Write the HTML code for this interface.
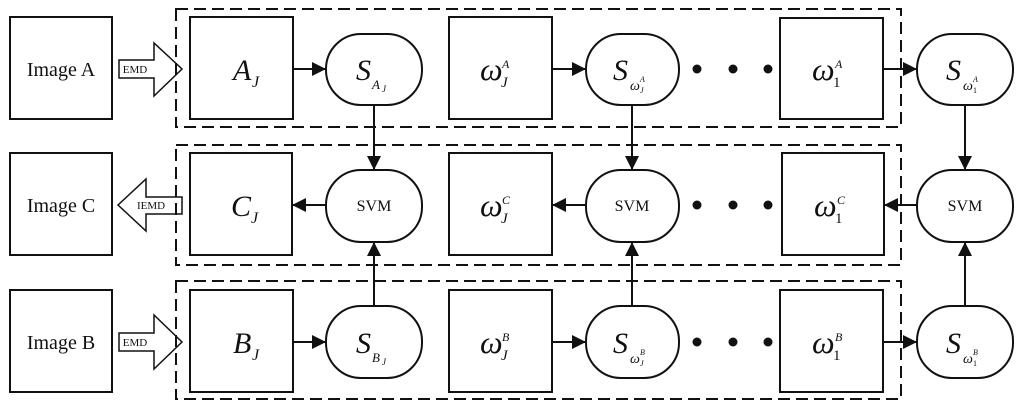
<!DOCTYPE html>
<html><head><meta charset="utf-8"><style>
html,body{margin:0;padding:0;background:#fff;}
svg{display:block;}
text{font-family:"Liberation Serif",serif;fill:#111;}
.it{font-style:italic;}
</style></head><body>
<svg width="1024" height="409" viewBox="0 0 1024 409" xmlns="http://www.w3.org/2000/svg">
<defs>
<marker id="ar2" viewBox="0 0 14 14" markerWidth="14" markerHeight="14" refX="13" refY="7" orient="auto" markerUnits="userSpaceOnUse">
<path d="M0,0 L14,7 L0,14 z" fill="#111"/></marker>
</defs>
<g fill="none" stroke="#111" stroke-width="2">
<rect x="176" y="9" width="725" height="118" stroke-dasharray="12,6"/>
<rect x="176" y="145" width="725" height="120" stroke-dasharray="12,6"/>
<rect x="176" y="281" width="725" height="118" stroke-dasharray="12,6"/>
<rect x="10" y="17" width="102" height="102"/>
<rect x="10" y="153" width="102" height="102"/>
<rect x="10" y="290" width="102" height="102"/>
<rect x="190" y="17" width="103" height="102"/>
<rect x="449" y="17" width="103" height="102"/>
<rect x="780" y="18" width="103" height="101"/>
<rect x="190" y="153" width="102" height="102"/>
<rect x="449" y="153" width="103" height="102"/>
<rect x="782" y="153" width="102" height="102"/>
<rect x="190" y="290" width="103" height="102"/>
<rect x="449" y="290" width="103" height="102"/>
<rect x="780" y="290" width="103" height="102"/>
<rect x="326" y="34" width="96" height="71" rx="35" ry="35"/>
<rect x="586" y="34" width="93" height="71" rx="35" ry="35"/>
<rect x="917" y="34" width="96" height="71" rx="35" ry="35"/>
<rect x="326" y="170" width="96" height="72" rx="35" ry="35"/>
<rect x="586" y="170" width="93" height="72" rx="35" ry="35"/>
<rect x="917" y="170" width="96" height="72" rx="35" ry="35"/>
<rect x="326" y="306" width="96" height="72" rx="35" ry="35"/>
<rect x="586" y="306" width="93" height="72" rx="35" ry="35"/>
<rect x="917" y="306" width="96" height="72" rx="35" ry="35"/>
<path d="M119,60 H154 V43 L182,69 L154,96 V78 H119 Z" stroke-width="1.5"/>
<path d="M119,333 H154 V315 L182,342 L154,369 V351 H119 Z" stroke-width="1.5"/>
<path d="M182,197 H146 V179 L118,205 L146,231 V214 H182 Z" stroke-width="1.5"/>
</g>
<g stroke="#111" stroke-width="2" fill="none">
<line x1="293" y1="69" x2="325" y2="69" marker-end="url(#ar2)"/>
<line x1="552" y1="69" x2="585" y2="69" marker-end="url(#ar2)"/>
<line x1="883" y1="69" x2="916" y2="69" marker-end="url(#ar2)"/>
<line x1="293" y1="342" x2="325" y2="342" marker-end="url(#ar2)"/>
<line x1="552" y1="342" x2="585" y2="342" marker-end="url(#ar2)"/>
<line x1="883" y1="342" x2="916" y2="342" marker-end="url(#ar2)"/>
<line x1="326" y1="205" x2="293" y2="205" marker-end="url(#ar2)"/>
<line x1="586" y1="205" x2="553" y2="205" marker-end="url(#ar2)"/>
<line x1="917" y1="205" x2="885" y2="205" marker-end="url(#ar2)"/>
<line x1="374" y1="105" x2="374" y2="169" marker-end="url(#ar2)"/>
<line x1="632" y1="105" x2="632" y2="169" marker-end="url(#ar2)"/>
<line x1="965" y1="105" x2="965" y2="169" marker-end="url(#ar2)"/>
<line x1="374" y1="306" x2="374" y2="243" marker-end="url(#ar2)"/>
<line x1="632" y1="306" x2="632" y2="243" marker-end="url(#ar2)"/>
<line x1="965" y1="306" x2="965" y2="243" marker-end="url(#ar2)"/>
</g>
<g fill="#111">
<circle cx="697" cy="69" r="4.5"/><circle cx="733" cy="69" r="4.5"/><circle cx="768" cy="69" r="4.5"/>
<circle cx="697" cy="205" r="4.5"/><circle cx="733" cy="205" r="4.5"/><circle cx="768" cy="205" r="4.5"/>
<circle cx="697" cy="342" r="4.5"/><circle cx="733" cy="342" r="4.5"/><circle cx="768" cy="342" r="4.5"/>
</g>
<g font-size="20">
<text x="61" y="76" text-anchor="middle">Image A</text>
<text x="61" y="212" text-anchor="middle">Image C</text>
<text x="61" y="349" text-anchor="middle">Image B</text>
</g>
<g font-size="11">
<text x="135" y="73" text-anchor="middle">EMD</text>
<text x="151" y="209" text-anchor="middle">IEMD</text>
<text x="135" y="346" text-anchor="middle">EMD</text>
</g>
<g font-size="16">
<text x="374" y="211" text-anchor="middle">SVM</text>
<text x="632" y="211" text-anchor="middle">SVM</text>
<text x="965" y="211" text-anchor="middle">SVM</text>
</g>
<g class="it">
<!-- A_J, C_J, B_J -->
<text x="233" y="80" font-size="30">A</text><text x="252" y="87" font-size="16">J</text>
<text x="231" y="216" font-size="30">C</text><text x="251" y="223" font-size="16">J</text>
<text x="233" y="353" font-size="30">B</text><text x="252" y="360" font-size="16">J</text>
<!-- S_A_J, S_B_J -->
<text x="356" y="80" font-size="30">S</text><text x="372" y="89" font-size="13">A</text><text x="382" y="92" font-size="9">J</text>
<text x="356" y="353" font-size="30">S</text><text x="372" y="362" font-size="13">B</text><text x="382" y="365" font-size="9">J</text>
<!-- S_omega -->
<text x="613" y="80" font-size="30">S</text><text x="630" y="90" font-size="14">ω</text><text x="640" y="93" font-size="8">J</text><text x="640" y="82" font-size="8">A</text>
<text x="613" y="353" font-size="30">S</text><text x="630" y="363" font-size="14">ω</text><text x="640" y="366" font-size="8">J</text><text x="640" y="355" font-size="8">B</text>
<text x="946" y="80" font-size="30">S</text><text x="963" y="90" font-size="14">ω</text><text x="973" y="93" font-size="8" font-style="normal">1</text><text x="973" y="82" font-size="8">A</text>
<text x="946" y="353" font-size="30">S</text><text x="963" y="363" font-size="14">ω</text><text x="973" y="366" font-size="8" font-style="normal">1</text><text x="973" y="355" font-size="8">B</text>
<!-- omega boxes -->
<text x="480" y="80" font-size="32">ω</text><text x="501" y="87" font-size="15">J</text><text x="502" y="68" font-size="12">A</text>
<text x="480" y="216" font-size="32">ω</text><text x="501" y="223" font-size="15">J</text><text x="502" y="204" font-size="12">C</text>
<text x="480" y="353" font-size="32">ω</text><text x="501" y="360" font-size="15">J</text><text x="502" y="341" font-size="12">B</text>
<text x="812" y="80" font-size="32">ω</text><text x="833" y="87" font-size="15" font-style="normal">1</text><text x="835" y="68" font-size="12">A</text>
<text x="814" y="216" font-size="32">ω</text><text x="835" y="223" font-size="15" font-style="normal">1</text><text x="837" y="204" font-size="12">C</text>
<text x="812" y="353" font-size="32">ω</text><text x="833" y="360" font-size="15" font-style="normal">1</text><text x="835" y="341" font-size="12">B</text>
</g>
</svg>
</body></html>
